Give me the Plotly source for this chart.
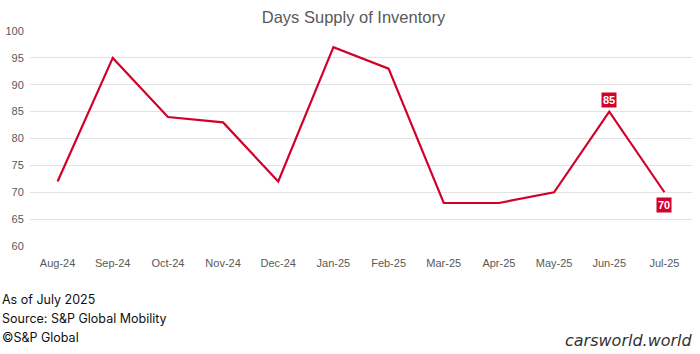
import plotly.graph_objects as go

months = ["Aug-24", "Sep-24", "Oct-24", "Nov-24", "Dec-24", "Jan-25",
          "Feb-25", "Mar-25", "Apr-25", "May-25", "Jun-25", "Jul-25"]
days_supply = [72, 95, 84, 83, 72, 97, 93, 68, 68, 70, 85, 70]
labeled_idx = [10, 11]
label_shift = [12, -13]
footer_lines = ["As of July 2025", "Source: S&P Global Mobility", "©S&P Global"]

RED = "#D2002A"
GRAY = "#595959"

fig = go.Figure()
fig.add_trace(go.Scatter(x=list(range(len(months))), y=days_supply, mode="lines",
                         line=dict(color=RED, width=2.2), hoverinfo="y"))

for i, s in zip(labeled_idx, label_shift):
    fig.add_annotation(x=i, y=days_supply[i], text="<b>%d</b>" % days_supply[i],
                       showarrow=False, yshift=s, bgcolor=RED,
                       font=dict(color="white", size=11, family="Arial"),
                       borderpad=1)

for k, line in enumerate(footer_lines):
    fig.add_annotation(xref="paper", yref="paper", x=-0.046, y=-0.251 - k * 0.087,
                       xanchor="left", yanchor="middle", text=line, showarrow=False,
                       font=dict(color="#111111", size=12.5, family="Inter"))

fig.add_annotation(xref="paper", yref="paper", x=1.005, y=-0.44, xanchor="right",
                   yanchor="middle", text="<i>carsworld.world</i>", showarrow=False,
                   font=dict(color="#333333", size=16, family="DejaVu Sans"))

fig.update_layout(
    width=700, height=354,
    margin=dict(l=30, r=8, t=31, b=108),
    paper_bgcolor="white", plot_bgcolor="white",
    showlegend=False,
    title=dict(text="Days Supply of Inventory", x=0.505, xanchor="center",
               y=0.952, yanchor="middle",
               font=dict(size=16.5, color=GRAY, family="Arial")),
    xaxis=dict(range=[-0.5, len(months) - 0.5], tickmode="array",
               tickvals=list(range(len(months))), ticktext=months,
               showgrid=False, showline=False, zeroline=False, automargin=False,
               ticks="outside", ticklen=7, tickcolor="rgba(0,0,0,0)",
               tickfont=dict(size=11, color=GRAY, family="Arial")),
    yaxis=dict(range=[60, 100], dtick=5, showgrid=True, gridcolor="#E3E3E3",
               gridwidth=1, zeroline=False, showline=False, automargin=False,
               ticks="outside", ticklen=3, tickcolor="rgba(0,0,0,0)",
               color=GRAY,
               tickfont=dict(size=11, color=GRAY, family="Arial")),
)

fig.write_html("out.html")
